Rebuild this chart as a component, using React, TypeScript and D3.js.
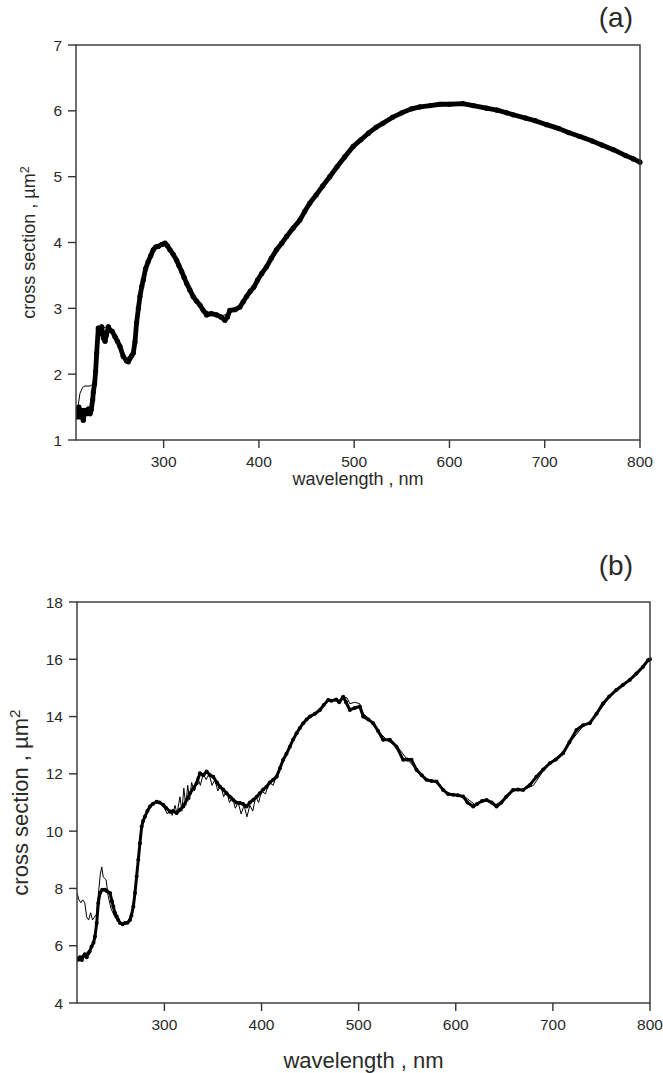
import React from "react";
import * as d3 from "d3";

// ---------- Panel (a) data ----------
const aMeasWl = [208.7, 210, 211, 212.2, 213.5, 215.7, 217, 219, 221, 222.7, 224, 225.5, 226.2, 227.5, 228.6, 229.7, 231.4, 233.2, 235, 236.7, 238.5, 240, 242, 243.7, 246, 248.9, 251.5, 254.2, 257.6, 261.2, 263, 264.6, 266.5, 268.1, 269.9, 271.6, 273.5, 275.1, 277, 278.6, 281, 283.8, 286.5, 289.1, 291.5, 294.3, 298, 301.4, 304, 306.6, 310, 313.6, 316, 318.9, 321.5, 324.1, 327.5, 331, 334.5, 338.1, 341.5, 345.1, 350, 355.6, 360, 364.3, 367, 369.5, 375, 380, 383.5, 387, 391, 394.6, 398.6, 403, 408, 413, 418.5, 424, 429, 436, 443, 448, 453.5, 460, 467, 474.4, 482, 490, 499, 507, 515, 523, 530, 540, 550, 560, 569, 580, 590, 600, 614, 625, 638.8, 650, 660, 667, 680, 690, 702, 715, 725, 737, 750, 760, 772, 785, 793, 800];
const aMeasCs = [1.35, 1.4, 1.5, 1.35, 1.45, 1.3, 1.45, 1.4, 1.47, 1.4, 1.46, 1.61, 1.73, 1.85, 2.04, 2.32, 2.7, 2.62, 2.72, 2.55, 2.5, 2.6, 2.72, 2.67, 2.65, 2.57, 2.5, 2.42, 2.27, 2.2, 2.19, 2.24, 2.28, 2.32, 2.49, 2.78, 3.0, 3.18, 3.33, 3.43, 3.6, 3.71, 3.8, 3.89, 3.93, 3.94, 3.97, 3.99, 3.95, 3.89, 3.82, 3.73, 3.65, 3.56, 3.47, 3.38, 3.28, 3.18, 3.11, 3.05, 2.97, 2.9, 2.92, 2.9, 2.87, 2.82, 2.87, 2.97, 2.98, 3.02, 3.1, 3.18, 3.26, 3.32, 3.43, 3.53, 3.63, 3.76, 3.89, 3.99, 4.09, 4.22, 4.34, 4.47, 4.6, 4.72, 4.86, 5.0, 5.15, 5.3, 5.46, 5.56, 5.66, 5.75, 5.81, 5.9, 5.97, 6.03, 6.06, 6.08, 6.1, 6.1, 6.11, 6.08, 6.04, 6.01, 5.97, 5.94, 5.89, 5.85, 5.79, 5.73, 5.67, 5.61, 5.54, 5.48, 5.41, 5.32, 5.27, 5.22];

const aModelWl = [208.7, 210, 212.2, 215, 217.4, 222.7, 226.2, 228.6, 229.7, 231.4, 233, 235, 237, 240, 243.7, 250, 255, 260, 265, 268, 271, 275, 280, 285, 290, 300, 310, 320, 330, 340, 350, 360, 370, 380, 390, 400, 420, 440, 460, 480, 500, 520, 540, 560, 580, 600, 620, 640, 660, 680, 700, 720, 740, 760, 780, 800];
const aModelCs = [1.4, 1.5, 1.71, 1.8, 1.82, 1.82, 1.85, 2.05, 2.3, 2.62, 2.6, 2.62, 2.7, 2.72, 2.7, 2.55, 2.38, 2.22, 2.22, 2.35, 2.7, 3.15, 3.55, 3.76, 3.9, 3.98, 3.82, 3.52, 3.2, 3.0, 2.92, 2.88, 2.93, 3.02, 3.24, 3.46, 3.92, 4.3, 4.72, 5.12, 5.47, 5.72, 5.9, 6.03, 6.08, 6.1, 6.1, 6.04, 5.97, 5.89, 5.8, 5.7, 5.6, 5.48, 5.36, 5.22];

// ---------- Panel (b) data ----------
const bMeasWl = [210, 211.3, 213, 215, 216.5, 218, 220, 221.6, 223, 225, 227, 228.5, 230.3, 231.9, 233.7, 236, 238.8, 241, 244, 246, 247.4, 249, 250.9, 252.5, 254.3, 257, 259.4, 262, 264.5, 266, 268, 269.7, 271.4, 273.1, 274.8, 276.6, 278, 280, 282.5, 285.1, 288, 292, 295, 298.8, 302, 305.7, 309, 312.6, 316, 319.4, 323, 326.3, 330, 333.2, 336.6, 340, 343.5, 347, 350.3, 354, 357.2, 360.5, 364, 367.5, 370.9, 374, 377.7, 381, 384.6, 388, 391.4, 395, 398.3, 401.7, 405.2, 408.5, 412, 415.5, 419, 422.3, 425.7, 429.2, 432.6, 436.1, 439.5, 442.9, 446.4, 449.8, 455, 460.1, 464, 468.6, 472, 477, 480, 484.1, 487, 491, 496, 501.2, 504.7, 510, 514.9, 520, 525.2, 532.1, 539, 545.8, 550, 554.4, 559.6, 565, 569.9, 575, 580.2, 587, 592, 597.3, 602, 607.6, 612, 617.9, 622, 627, 631.7, 637, 642, 647, 652, 659, 664, 669.3, 676, 683.1, 690, 696.8, 703, 710.5, 717, 724.3, 731, 738, 745, 751.6, 758, 765.4, 772, 779.1, 786, 792.8, 798, 800];
const bMeasCs = [5.55, 5.51, 5.6, 5.5, 5.63, 5.7, 5.6, 5.74, 5.8, 5.97, 6.1, 6.32, 6.79, 7.49, 7.84, 7.95, 7.95, 7.9, 7.84, 7.55, 7.37, 7.15, 7.02, 6.9, 6.79, 6.75, 6.79, 6.8, 6.9, 7.05, 7.37, 7.84, 8.42, 9.0, 9.58, 10.16, 10.35, 10.51, 10.7, 10.86, 10.95, 11.03, 11.0, 10.92, 10.8, 10.68, 10.7, 10.63, 10.75, 10.86, 11.1, 11.32, 11.5, 11.67, 12.02, 11.95, 12.08, 11.95, 11.9, 11.7, 11.55, 11.45, 11.32, 11.2, 11.09, 11.0, 10.98, 10.95, 10.86, 11.0, 11.09, 11.2, 11.32, 11.45, 11.55, 11.7, 11.79, 11.9, 12.2, 12.49, 12.7, 12.95, 13.2, 13.42, 13.6, 13.77, 13.9, 14.0, 14.1, 14.23, 14.4, 14.58, 14.55, 14.6, 14.5, 14.69, 14.5, 14.23, 14.3, 14.35, 14.0, 13.9, 13.77, 13.5, 13.19, 13.19, 12.95, 12.49, 12.5, 12.49, 12.14, 11.95, 11.79, 11.75, 11.73, 11.44, 11.3, 11.27, 11.25, 11.21, 11.0, 10.86, 10.95, 11.05, 11.09, 11.0, 10.86, 11.0, 11.2, 11.44, 11.45, 11.44, 11.6, 11.9, 12.15, 12.37, 12.5, 12.72, 13.1, 13.53, 13.7, 13.77, 14.1, 14.46, 14.7, 14.93, 15.1, 15.28, 15.5, 15.74, 15.97, 16.0];

const bModelWl = [210, 212, 214, 216, 218, 220, 222, 224, 226, 228, 230, 232, 234, 235.5, 237, 240, 242, 245, 249, 252, 256, 260, 264, 267, 270, 272, 274, 276, 279, 283, 288, 292, 296, 300, 303, 306, 308, 311, 313, 316, 318, 320, 322, 324, 326, 328, 331, 334, 337, 340, 343, 346, 349, 352, 355, 358, 361, 364, 367, 370, 373, 376, 379, 382, 385, 388, 391, 394, 397, 400, 404, 408, 412, 416, 425, 435, 445, 455, 465, 470, 475, 480, 484, 488, 491, 496, 501, 505, 510, 520, 530, 540, 550, 560, 570, 580, 590, 600, 610, 620, 630, 640, 650, 660, 670, 680, 690, 700, 710, 720, 730, 740, 750, 760, 770, 780, 790, 800];
const bModelCs = [7.84, 7.6, 7.5, 7.6, 7.5, 7.0, 6.9, 7.15, 6.9, 7.0, 7.1, 7.8, 8.5, 8.75, 8.4, 8.3, 7.75, 7.3, 7.0, 6.85, 6.75, 6.8, 6.9, 7.3, 7.9, 8.6, 9.4, 10.1, 10.5, 10.8, 10.95, 11.05, 10.95, 10.8, 10.6, 10.75, 10.55, 10.9, 10.6, 11.2, 10.7, 11.5, 10.9, 11.6, 11.1, 11.7, 11.4, 11.9, 11.6, 12.0, 11.8, 12.0, 11.6, 11.8, 11.4, 11.6, 11.2, 11.4, 11.0, 11.2, 10.8, 11.0, 10.6, 10.9, 10.5, 10.9, 10.7, 11.2, 11.0, 11.4, 11.3, 11.7, 11.6, 12.0, 12.65, 13.4, 13.85, 14.1, 14.45, 14.6, 14.55, 14.55, 14.7, 14.65, 14.45, 14.5, 14.45, 14.1, 13.95, 13.5, 13.15, 12.95, 12.5, 12.15, 11.8, 11.73, 11.35, 11.26, 11.18, 10.92, 11.08, 10.9, 11.1, 11.44, 11.45, 11.6, 12.1, 12.45, 12.75, 13.2, 13.62, 13.85, 14.3, 14.75, 15.05, 15.3, 15.65, 15.98];

const xTickVals = [300, 400, 500, 600, 700, 800];
const yTicksA = [1, 2, 3, 4, 5, 6, 7];
const yTicksB = [4, 6, 8, 10, 12, 14, 16, 18];

const FONT = "'Liberation Sans', Arial, Helvetica, sans-serif";
const INK = "#2a2a2a";
const FRAME = "#333333";

type PanelProps = {
  left: number; right: number; top: number; bottom: number;
  xMin: number; yDomain: [number, number]; yTicks: number[];
  measWl: number[]; measCs: number[]; modelWl: number[]; modelCs: number[];
  label: string; labelY: number; titleSize: number; xTitleY: number; yTitleX: number;
  dotR: number; bandW: number;
};

function Panel(p: PanelProps) {
  const x = d3.scaleLinear().domain([p.xMin, 800]).range([p.left, p.right]);
  const y = d3.scaleLinear().domain(p.yDomain).range([p.bottom, p.top]);
  const meas = p.measWl.map((w, i) => [w, p.measCs[i]] as [number, number]);
  const model = p.modelWl.map((w, i) => [w, p.modelCs[i]] as [number, number]);
  const line = d3.line<[number, number]>().x(d => x(d[0])).y(d => y(d[1]));
  const tickLen = 8;
  const cx = (p.left + p.right) / 2;
  const cy = (p.top + p.bottom) / 2;
  return (
    <g>
      <defs>
        <clipPath id={"clip" + p.label}>
          <rect x={p.left} y={p.top - 4} width={p.right - p.left + 4} height={p.bottom - p.top + 4} />
        </clipPath>
      </defs>
      <g clipPath={`url(#clip${p.label})`}>
        <path d={line(meas) || ""} fill="none" stroke="#000" strokeWidth={p.bandW} strokeLinejoin="round" />
        {meas.map((d, i) => (
          <circle key={i} cx={x(d[0])} cy={y(d[1])} r={p.dotR} fill="#000" />
        ))}
        <path d={line(model) || ""} fill="none" stroke="#000" strokeWidth={1} />
      </g>
      <rect x={p.left} y={p.top} width={p.right - p.left} height={p.bottom - p.top} fill="none" stroke={FRAME} strokeWidth={1.4} />
      {p.yTicks.map(t => (
        <g key={"y" + t}>
          <line x1={p.left - tickLen} x2={p.left} y1={y(t)} y2={y(t)} stroke={FRAME} strokeWidth={1.4} />
          <text x={p.left - tickLen - 6} y={y(t)} dy="0.36em" textAnchor="end" fontFamily={FONT} fontSize={15.5} fill={INK}>{t}</text>
        </g>
      ))}
      {xTickVals.map(t => (
        <g key={"x" + t}>
          <line x1={x(t)} x2={x(t)} y1={p.bottom} y2={p.bottom + tickLen} stroke={FRAME} strokeWidth={1.4} />
          <text x={x(t)} y={p.bottom + 27} textAnchor="middle" fontFamily={FONT} fontSize={15.5} fill={INK}>{t}</text>
        </g>
      ))}
      <text x={cx} y={p.xTitleY} textAnchor="middle" fontFamily={FONT} fontSize={p.titleSize} fill={INK}>wavelength , nm</text>
      <text transform={`translate(${p.yTitleX},${cy}) rotate(-90)`} textAnchor="middle" fontFamily={FONT} fontSize={p.titleSize} fill={INK}>
        cross section , µm<tspan dy="-0.5em" fontSize="0.7em">2</tspan>
      </text>
      <text x={633} y={p.labelY} textAnchor="end" fontFamily={FONT} fontSize={28} fill={INK}>({p.label})</text>
    </g>
  );
}

export default function App() {
  return (
    <div style={{ position: "absolute", left: 0, top: 0 }}>
      <svg width={663} height={1073} style={{ display: "block", background: "#fff" }}>
        <rect width={663} height={1073} fill="#fff" />
        <Panel left={76} right={640} top={45} bottom={440} xMin={208} yDomain={[1, 7]} yTicks={yTicksA}
          measWl={aMeasWl} measCs={aMeasCs} modelWl={aModelWl} modelCs={aModelCs}
          label="a" labelY={27} titleSize={18} xTitleY={485} yTitleX={35} dotR={2.6} bandW={4.8} />
        <Panel left={77} right={650} top={602} bottom={1003} xMin={210} yDomain={[4, 18]} yTicks={yTicksB}
          measWl={bMeasWl} measCs={bMeasCs} modelWl={bModelWl} modelCs={bModelCs}
          label="b" labelY={575} titleSize={22} xTitleY={1068} yTitleX={28} dotR={2} bandW={3} />
      </svg>
    </div>
  );
}
